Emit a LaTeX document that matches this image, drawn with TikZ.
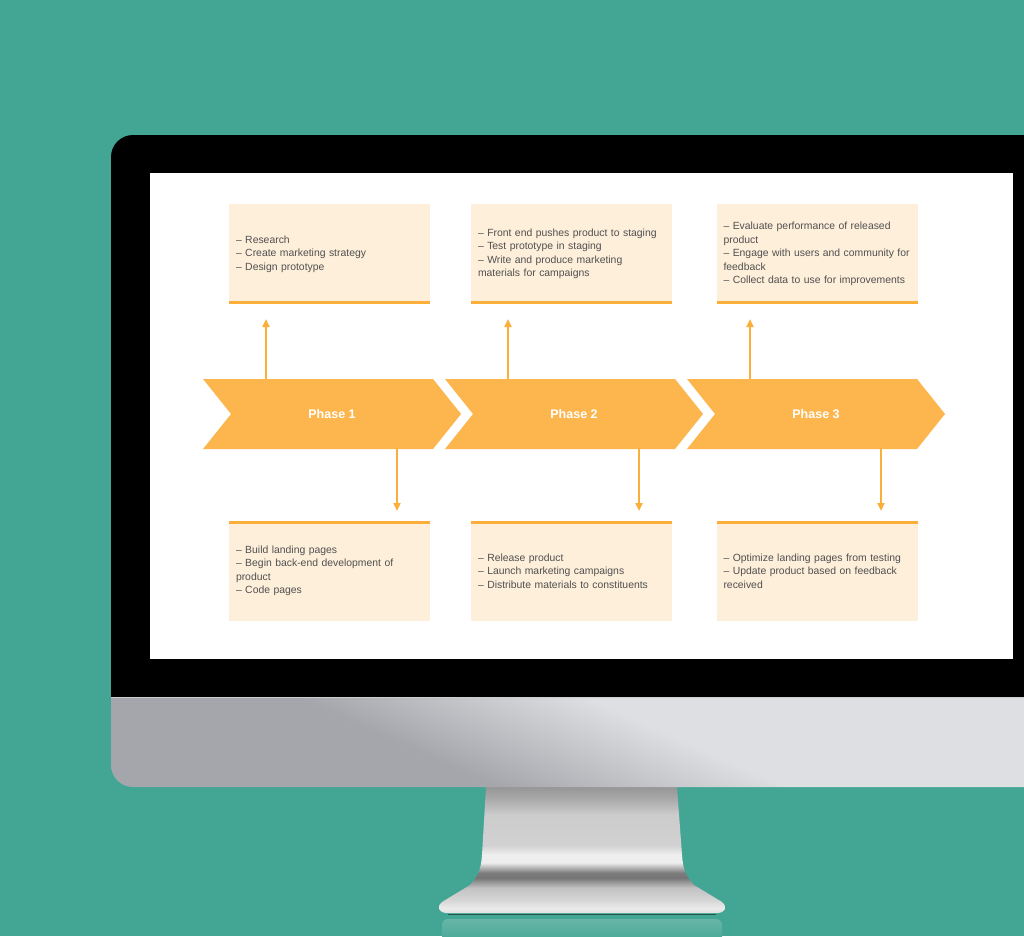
\documentclass[tikz,border=0pt]{standalone}
\usepackage{fontspec}
\setmainfont{Liberation Sans}
\usetikzlibrary{arrows.meta}
\definecolor{bgteal}{RGB}{67,166,148}
\definecolor{refl}{RGB}{104,182,168}
\definecolor{shadowteal}{RGB}{35,85,75}
\definecolor{chinL}{RGB}{165,166,171}
\definecolor{chinR}{RGB}{222,223,226}
\definecolor{chevor}{RGB}{253,182,77}
\definecolor{lineor}{RGB}{252,174,58}
\definecolor{boxfill}{RGB}{254,239,218}
\definecolor{txtgray}{RGB}{80,80,80}
\pgfdeclarehorizontalshading{chin}{100bp}{color(0bp)=(chinL); color(47bp)=(chinL); color(53bp)=(chinR); color(100bp)=(chinR)}
\pgfdeclareverticalshading{stand}{100bp}{color(0bp)=(black!12); color(25bp)=(black!12); color(27bp)=(black!8); color(30bp)=(black!16); color(35bp)=(black!24); color(39bp)=(black!54); color(41bp)=(black!51); color(45bp)=(black!7); color(48bp)=(black!6); color(52bp)=(black!18); color(64bp)=(black!20); color(71bp)=(black!35); color(75bp)=(black!41); color(100bp)=(black!41)}
\tikzset{
	phase/.style={minimum width=258pt, minimum height=70pt, inner sep=0pt, outer sep=0pt,
		text=white, font=\fontsize{12.5}{15}\selectfont\bfseries,
		path picture={\fill[chevor] (path picture bounding box.north west)
			-- ([xshift=-28pt]path picture bounding box.north east)
			-- (path picture bounding box.east)
			-- ([xshift=-28pt]path picture bounding box.south east)
			-- (path picture bounding box.south west)
			-- ([xshift=28pt]path picture bounding box.west) -- cycle;}},
	note/.style={fill=boxfill, minimum width=201pt, minimum height=100pt, text width=187pt,
		inner xsep=7pt, inner ysep=0pt, outer sep=0pt, align=left, text=txtgray,
		font=\fontsize{10.4}{13.5}\selectfont},
	bar/.style={draw=lineor, line width=3pt},
	arr/.style={draw=lineor, line width=2pt, -{Stealth[length=8pt,width=7pt,inset=0pt]}},
}
\begin{document}
\begin{tikzpicture}[x=1pt, y=-1pt]
	\def\W{1024}
	\def\H{936}
	%背景
	\useasboundingbox (0,0) rectangle (\W,\H);
	\fill[bgteal] (0,0) rectangle (\W,\H);
	%底座倒影
	\shade[top color=refl, bottom color=bgteal, rounded corners=6pt] (442,919) rectangle (722,944);
	%支架
	\shade[shading=stand] (486,787) -- (482,855) .. controls (481,870) and (478,876) .. (470,885)
		-- (442,902) .. controls (436,907) and (439,913) .. (447,913) -- (717,913)
		.. controls (725,913) and (728,907) .. (722,902) -- (694,885)
		.. controls (686,876) and (683,870) .. (682,855) -- (677,787) -- cycle;
	\draw[shadowteal, line width=1.5pt] (448,914.5) -- (716,914.5);
	%显示器外壳
	\begin{scope}
		\clip[rounded corners=22pt] (111,135) rectangle (1060,787);
		\fill[black] (111,135) rectangle (1060,697);
		\begin{scope}
			\clip (111,697) rectangle (1060,787);
			\shade[shading=chin, shading angle=66] (42,242) rectangle (1042,1242);
		\end{scope}
		\draw[black!20, line width=1pt] (111,697.5) -- (1060,697.5);
	\end{scope}
	%屏幕
	\fill[white] (150,173) rectangle (1013,659);
	
	%三个阶段
	\foreach \i in {1,2,3}
		\node[phase] (p\i) at ({90+242*\i},414) {Phase \i};
	%上方说明框
	\node[note] (t1) at (329.5,254) {-- Research\\-- Create marketing strategy\\-- Design prototype};
	\node[note] (t2) at (571.5,254) {-- Front end pushes product to staging\\-- Test prototype in staging\\-- Write and produce marketing\\materials for campaigns};
	\node[note] (t3) at (817,254) {-- Evaluate performance of released\\product\\-- Engage with users and community for\\feedback\\-- Collect data to use for improvements};
	%下方说明框
	\node[note] (b1) at (329.5,571) {-- Build landing pages\\-- Begin back-end development of\\product\\-- Code pages};
	\node[note] (b2) at (571.5,571) {-- Release product\\-- Launch marketing campaigns\\-- Distribute materials to constituents};
	\node[note] (b3) at (817,571) {-- Optimize landing pages from testing\\-- Update product based on feedback\\received};
	%橙色边线与箭头
	\foreach \i in {1,2,3} {
		\draw[bar] ([yshift=1.5pt]t\i.south west) -- ([yshift=1.5pt]t\i.south east);
		\draw[bar] ([yshift=-1.5pt]b\i.north west) -- ([yshift=-1.5pt]b\i.north east);
		\coordinate (u\i) at ([xshift=63pt]p\i.north west);
		\coordinate (d\i) at ([xshift=194pt]p\i.south west);
		\draw[arr, shorten >=15pt] (u\i) -- (u\i |- t\i.south);
		\draw[arr, shorten >=10pt] (d\i) -- (d\i |- b\i.north);
	}
\end{tikzpicture}
\end{document}
